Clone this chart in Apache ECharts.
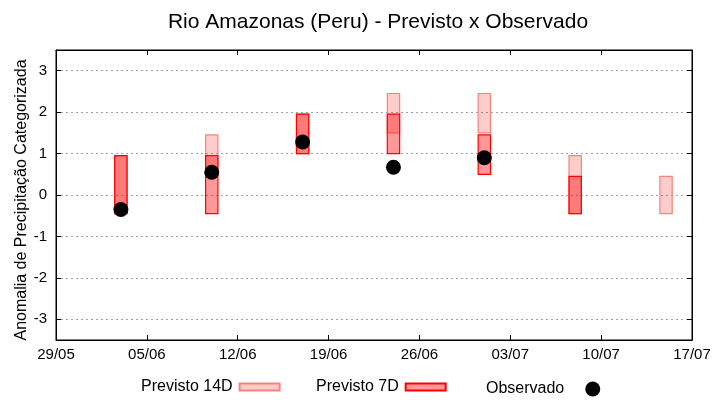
<!DOCTYPE html>
<html>
<head>
<meta charset="utf-8">
<script src="https://cdn.jsdelivr.net/npm/echarts@6/dist/echarts.min.js"></script>
<style>
html,body{margin:0;padding:0;background:#fff;}
#chart{width:720px;height:400px;}
</style>
</head>
<body>
<div id="chart"></div>
<script>
// ---- data ----
const startDate = '29/05';
const tickLabels = ['29/05', '05/06', '12/06', '19/06', '26/06', '03/07', '10/07', '17/07'];
const dates = ['03/06', '10/06', '17/06', '24/06', '01/07', '08/07', '15/07'];
const prev14Low  = [-0.45, 0.5, 1.0, 1.5, 1.5, -0.45, -0.45];
const prev14High = [0.95, 1.45, 1.95, 2.45, 2.45, 0.95, 0.45];
const prev7Low   = [-0.45, -0.45, 1.0, 1.0, 0.5, -0.45, null];
const prev7High  = [0.95, 0.95, 1.95, 1.95, 1.45, 0.45, null];
const observed   = [-0.35, 0.55, 1.28, 0.67, 0.9, null, null];

// ---- helpers ----
function dayOffset(s) {
  const [d0, m0] = startDate.split('/').map(Number);
  const [d, m] = s.split('/').map(Number);
  return (Date.UTC(2021, m - 1, d) - Date.UTC(2021, m0 - 1, d0)) / 86400000;
}
const xs = dates.map(dayOffset);
const xMax = dayOffset(tickLabels[tickLabels.length - 1]);

function boxData(lo, hi) {
  const out = [];
  xs.forEach((x, i) => { if (lo[i] != null && hi[i] != null) out.push([x, lo[i], hi[i]]); });
  return out;
}
const obsData = [];
xs.forEach((x, i) => { if (observed[i] != null) obsData.push([x, observed[i]]); });

const FONT = 'Liberation Sans';
const fill14 = 'rgba(255,0,0,0.2)', stroke14 = '#f2857c';
const fill7 = 'rgba(255,0,0,0.4)', stroke7 = '#ff0000';

function makeRender(fill, stroke) {
  return function (params, api) {
    const x = api.value(0), lo = api.value(1), hi = api.value(2);
    const pTop = api.coord([x, hi]);
    const pBot = api.coord([x, lo]);
    const w = api.size([1, 0])[0] * 0.95;
    return {
      type: 'rect',
      shape: { x: pTop[0] - w / 2, y: pTop[1], width: w, height: pBot[1] - pTop[1] },
      style: { fill: fill, stroke: stroke, lineWidth: 1.2 }
    };
  };
}

function fmtX(v) {
  const idx = Math.round(v / 7);
  return (Math.abs(v - idx * 7) < 1e-6 && tickLabels[idx]) ? tickLabels[idx] : '';
}

const legendText = { fontFamily: FONT, fontSize: 16, color: '#000', padding: [0, 2, 0, 0] };

const chart = echarts.init(document.getElementById('chart'), null, { renderer: 'canvas' });
const option = {
  animation: false,
  backgroundColor: '#fff',
  textStyle: { fontFamily: FONT },
  title: {
    text: 'Rio Amazonas (Peru) - Previsto x Observado',
    left: 373, top: 7, textAlign: 'center',
    textStyle: { fontFamily: FONT, fontSize: 21, fontWeight: 'normal', color: '#000' }
  },
  legend: [
    { data: [{ name: 'Previsto 14D', icon: 'rect' }], left: 141, top: 379, padding: 0, align: 'right',
      itemWidth: 40, itemHeight: 7, selectedMode: false, textStyle: legendText },
    { data: [{ name: 'Previsto 7D', icon: 'rect' }], left: 316, top: 379, padding: 0, align: 'right',
      itemWidth: 40, itemHeight: 7, selectedMode: false, textStyle: legendText },
    { data: [{ name: 'Observado', icon: 'circle' }], left: 486, top: 381, padding: 0, align: 'right',
      itemWidth: 15, itemHeight: 15, itemGap: 0, selectedMode: false,
      textStyle: { fontFamily: FONT, fontSize: 16, color: '#000', padding: [0, 16, 0, 0] } }
  ],
  grid: { left: 56, right: 28, top: 50, bottom: 60, show: true, borderColor: '#000', borderWidth: 1, containLabel: false },
  xAxis: [
    { type: 'value', min: 0, max: xMax, interval: 7, position: 'bottom',
      axisLine: { show: true, onZero: false, lineStyle: { color: '#000' } },
      axisTick: { show: true, inside: true, length: 5, lineStyle: { color: '#000' } },
      axisLabel: { formatter: fmtX, color: '#000', fontSize: 15, fontFamily: FONT, margin: 7 },
      splitLine: { show: false } },
    { type: 'value', min: 0, max: xMax, interval: 7, position: 'top',
      axisLine: { show: true, onZero: false, lineStyle: { color: '#000' } },
      axisTick: { show: true, inside: true, length: 5, lineStyle: { color: '#000' } },
      axisLabel: { show: false }, splitLine: { show: false } }
  ],
  yAxis: [
    { type: 'value', min: -3.5, max: 3.5, splitNumber: 7, position: 'left',
      name: 'Anomalia de Precipitação Categorizada', nameLocation: 'middle', nameGap: 26,
      nameMoveOverlap: false,
      nameTextStyle: { fontFamily: FONT, fontSize: 16, color: '#000', padding: [0, 10, 0, 0] },
      axisLine: { show: true, onZero: false, lineStyle: { color: '#000' } },
      axisTick: { show: true, inside: true, length: 5, lineStyle: { color: '#000' } },
      axisLabel: { color: '#000', fontSize: 15, fontFamily: FONT, margin: 9,
        showMinLabel: false, showMaxLabel: false,
        formatter: v => (Math.abs(v - Math.round(v)) < 1e-6 ? String(Math.round(v)) : '') },
      splitLine: { show: true, lineStyle: { color: '#a0a0a0', type: [2, 3], width: 1 } } },
    { type: 'value', min: -3.5, max: 3.5, splitNumber: 7, position: 'right',
      axisLine: { show: true, onZero: false, lineStyle: { color: '#000' } },
      axisTick: { show: true, inside: true, length: 5, lineStyle: { color: '#000' } },
      axisLabel: { show: false }, splitLine: { show: false } }
  ],
  series: [
    { name: 'Previsto 14D', type: 'custom', xAxisIndex: 0, yAxisIndex: 0,
      renderItem: makeRender(fill14, stroke14), encode: { x: 0, y: [1, 2] },
      itemStyle: { color: fill14, borderColor: stroke14, borderWidth: 1 },
      data: boxData(prev14Low, prev14High), z: 2 },
    { name: 'Previsto 7D', type: 'custom', xAxisIndex: 0, yAxisIndex: 0,
      renderItem: makeRender(fill7, stroke7), encode: { x: 0, y: [1, 2] },
      itemStyle: { color: fill7, borderColor: stroke7, borderWidth: 1 },
      data: boxData(prev7Low, prev7High), z: 3 },
    { name: 'Observado', type: 'scatter', xAxisIndex: 0, yAxisIndex: 0,
      symbol: 'circle', symbolSize: 15, itemStyle: { color: '#000', opacity: 1 },
      data: obsData, z: 4 }
  ]
};
chart.setOption(option);
</script>
</body>
</html>
